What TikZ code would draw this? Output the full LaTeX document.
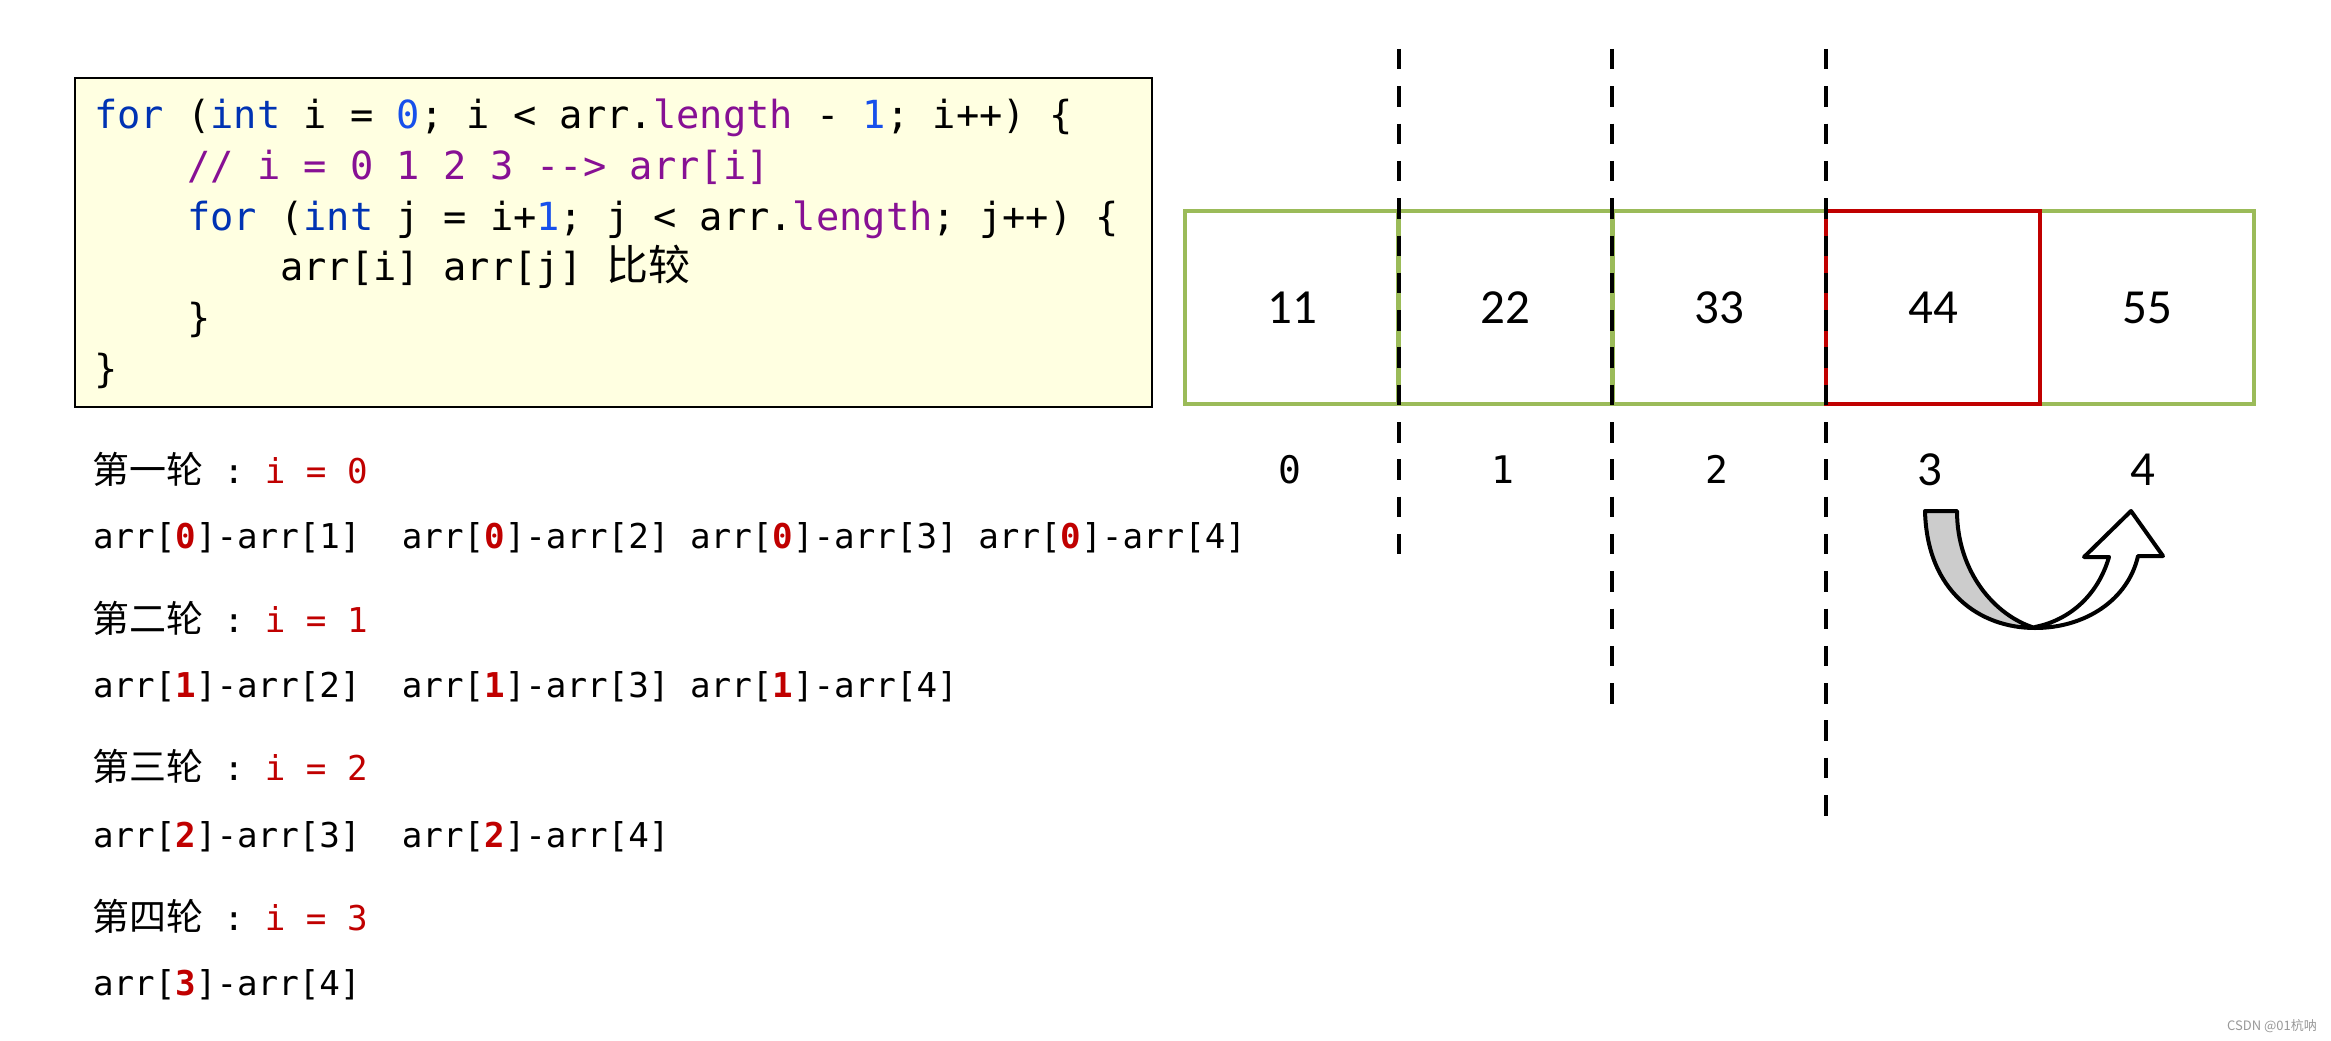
\documentclass[tikz,border=0pt]{standalone}
\usepackage{fontspec}
\setmainfont{DejaVu Sans}
\setmonofont{DejaVu Sans Mono}
\newfontfamily\cjkfont{Noto Sans CJK SC}
\newfontfamily\calfont{Carlito}
\definecolor{kwblue}{HTML}{0033B3}
\definecolor{numblue}{HTML}{1750EB}
\definecolor{purp}{HTML}{871094}
\definecolor{redc}{HTML}{C00000}
\definecolor{greenc}{HTML}{9BBB59}
\definecolor{codebg}{HTML}{FFFFE1}
\definecolor{arrgray}{HTML}{CCCCCC}
\newcommand\Kw[1]{\textcolor{kwblue}{#1}}
\newcommand\Nm[1]{\textcolor{numblue}{#1}}
\newcommand\Pu[1]{\textcolor{purp}{#1}}
\newcommand\Rd[1]{\textcolor{redc}{#1}}
\newcommand\Rb[1]{\textbf{\textcolor{redc}{#1}}}
\newcommand\CjkCode[1]{{\fontsize{42}{46}\selectfont\cjkfont #1}}
\newcommand\CjkLow[1]{{\fontsize{37}{40}\selectfont\cjkfont #1}}
\begin{document}
\begin{tikzpicture}[x=1pt,y=-1pt,
  codeline/.style={anchor=base west, inner sep=0pt, outer sep=0pt,
    font=\ttfamily\fontsize{38.7}{46}\selectfont},
  lowline/.style={anchor=base west, inner sep=0pt, outer sep=0pt,
    font=\ttfamily\fontsize{34.2}{40}\selectfont},
  cell/.style={draw=greenc, line width=4.5, minimum width=213.8, minimum height=193,
    inner sep=0pt, font=\calfont\fontsize{49}{52}\selectfont},
  idxmono/.style={anchor=base, inner sep=0pt, font=\ttfamily\fontsize{38}{42}\selectfont},
  idxcal/.style={anchor=base, inner sep=0pt, font=\calfont\fontsize{49}{52}\selectfont},
  divider/.style={draw=black, line width=4.5, dash pattern=on 20.5pt off 16.8pt},
  bandline/.style={draw=black, line width=4, line join=round}]
\fill[white] (0,0) rectangle (2331,1041);
\useasboundingbox (0,0) rectangle (2331,1041);

% code box
\node (codebox) [draw=black, line width=2, fill=codebg, minimum width=1077,
  minimum height=329, anchor=north west, inner sep=0pt] at (74,77) {};
\node (l1) [codeline] at (94,128) {\Kw{for} (\Kw{int} i = \Nm{0}; i < arr.\Pu{length} - \Nm{1}; i++) \{};
\node (l2) [codeline] at (187.2,179) {\Pu{// i = 0 1 2 3 -{}-{}> arr[i]}};
\node (l3) [codeline] at (187.2,230) {\Kw{for} (\Kw{int} j = i+\Nm{1}; j < arr.\Pu{length}; j++) \{};
\node (l4) [codeline] at (280.4,280) {arr[i] arr[j] \CjkCode{比较}};
\node (l5) [codeline] at (187.2,331) {\}};
\node (l6) [codeline] at (94,382) {\}};

% rounds
\node (r1) [lowline] at (92,483) {\CjkLow{第一轮} : \Rd{i = 0}};
\node (r1a) [lowline] at (93,548) {arr[\Rb{0}]-arr[1]~ arr[\Rb{0}]-arr[2] arr[\Rb{0}]-arr[3] arr[\Rb{0}]-arr[4]};
\node (r2) [lowline] at (92,632) {\CjkLow{第二轮} : \Rd{i = 1}};
\node (r2a) [lowline] at (93,697) {arr[\Rb{1}]-arr[2]~ arr[\Rb{1}]-arr[3] arr[\Rb{1}]-arr[4]};
\node (r3) [lowline] at (92,780) {\CjkLow{第三轮} : \Rd{i = 2}};
\node (r3a) [lowline] at (93,847) {arr[\Rb{2}]-arr[3]~ arr[\Rb{2}]-arr[4]};
\node (r4) [lowline] at (92,930) {\CjkLow{第四轮} : \Rd{i = 3}};
\node (r4a) [lowline] at (93,995) {arr[\Rb{3}]-arr[4]};

% array cells
\node (c0) [cell] at (1292,307.5) {11};
\node (c1) [cell] at (1505.6,307.5) {22};
\node (c2) [cell] at (1719.2,307.5) {33};
\node (c4) [cell] at (2147,307.5) {55};
\node (c3) [cell, draw=redc] at (1933,307.5) {44};

% indices
\node (i0) [idxmono] at (1290,483) {0};
\node (i1) [idxmono] at (1503,483) {1};
\node (i2) [idxmono] at (1717,483) {2};
\node (i3) [idxcal] at (1930,485) {3};
\node (i4) [idxcal] at (2143,485) {4};

% dashed dividers
\coordinate (d1t) at (1399,49);
\coordinate (d1b) at (1399,554);
\coordinate (d2t) at (1612,49);
\coordinate (d2b) at (1612,704);
\coordinate (d3t) at (1826,49);
\coordinate (d3b) at (1826,816);
\draw[divider] (d1t) -- (d1b);
\draw[divider] (d2t) -- (d2b);
\draw[divider] (d3t) -- (d3b);

% curved arrow
\filldraw[bandline, fill=arrgray] (1925,511) .. controls (1927,592) and (1980,628) .. (2035,628)
  .. controls (1995,616) and (1957,572) .. (1957,511) -- cycle;
\filldraw[bandline, fill=white] (2035,628) .. controls (2085,628) and (2128,600) .. (2138,556)
  -- (2163,556) -- (2131,511) -- (2084,557) -- (2109,557)
  .. controls (2098,595) and (2070,620) .. (2035,627) -- cycle;

% watermark
\node (wm) [anchor=base east, inner sep=0pt, text=black!40,
  font=\cjkfont\fontsize{13}{15}\selectfont] at (2317,1030) {CSDN @01杭呐};
\end{tikzpicture}
\end{document}
